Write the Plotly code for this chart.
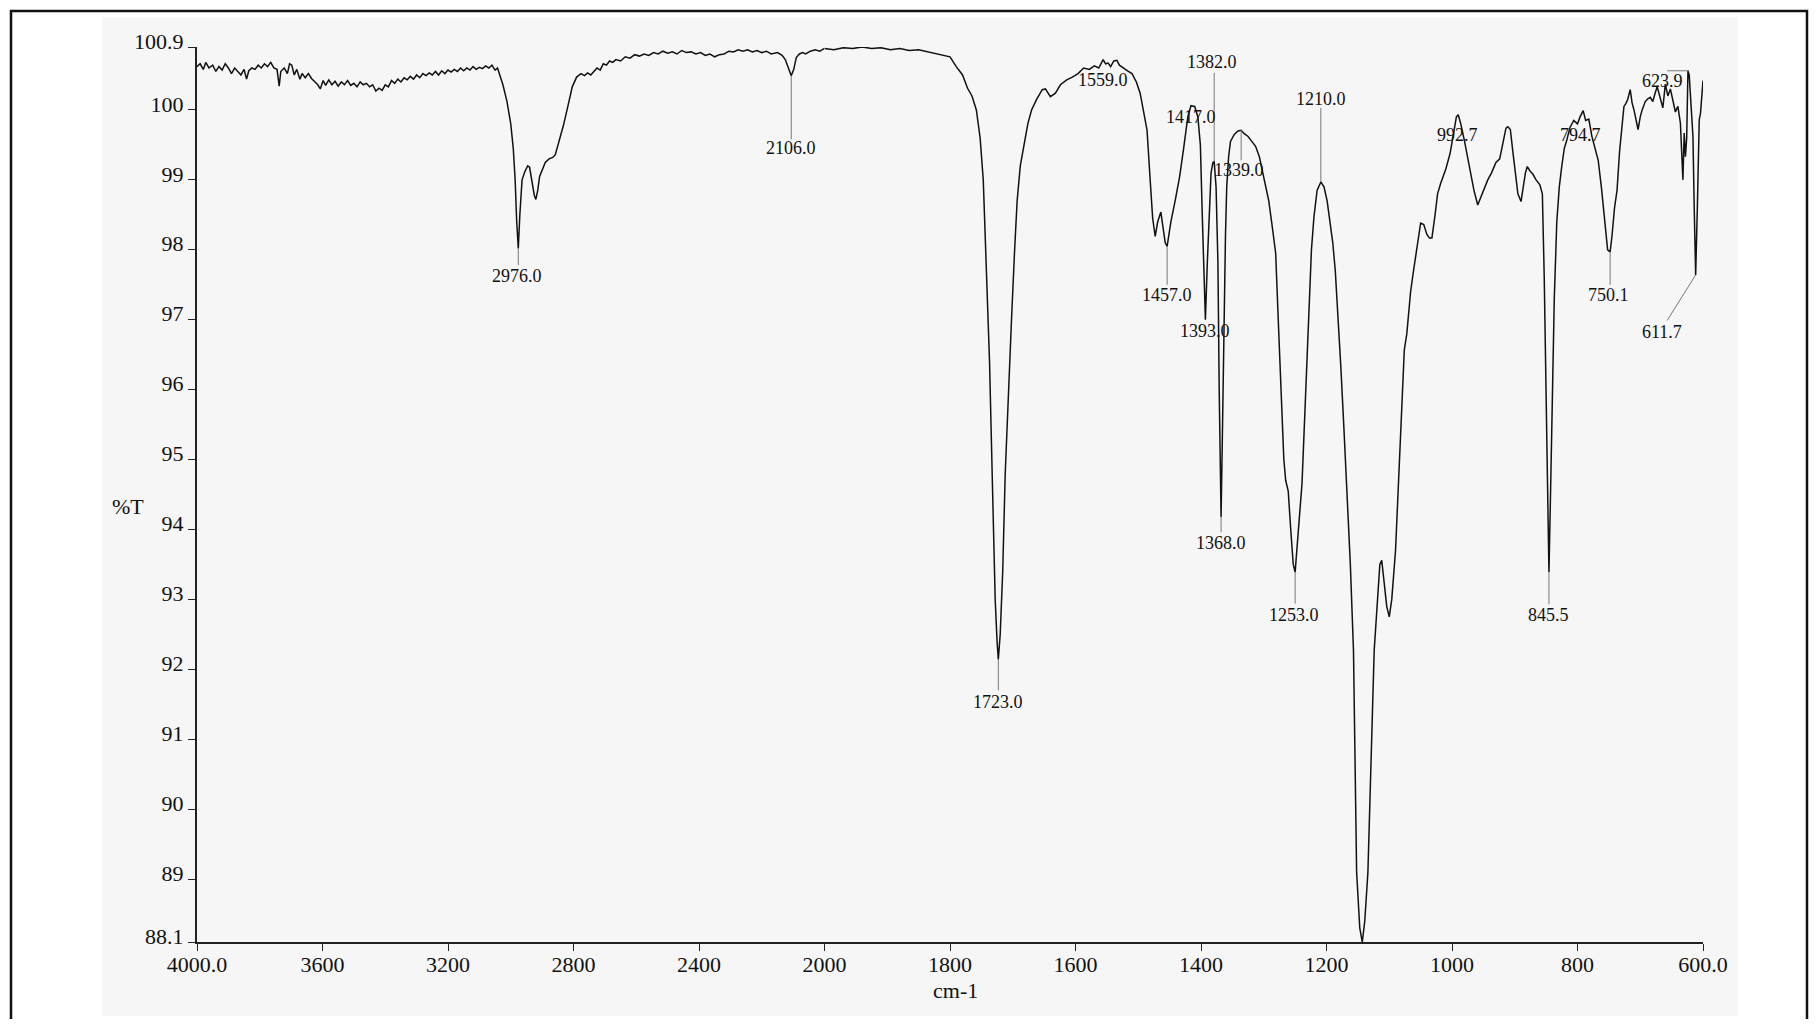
import plotly.graph_objects as go

# ---------------- data ----------------
wn_hi = [4000, 3990, 3980, 3972, 3962, 3950, 3940, 3930, 3920, 3910, 3900, 3890, 3880, 3870, 3860,
         3850, 3842, 3835, 3825, 3815, 3805, 3795, 3785, 3775, 3765, 3755, 3745, 3738, 3733, 3722,
         3712, 3705, 3698, 3690, 3682, 3672, 3665, 3655, 3645, 3635, 3625, 3615, 3607, 3598, 3590,
         3580, 3570, 3560, 3550, 3540, 3530, 3520, 3510, 3500, 3490, 3480, 3470, 3460, 3450, 3440,
         3430, 3420, 3410, 3400, 3390, 3380, 3370, 3360, 3350, 3340, 3330, 3320, 3310, 3300, 3290,
         3280, 3270, 3260, 3250, 3240, 3230, 3220, 3210, 3200, 3190, 3180, 3170, 3160, 3150, 3140,
         3130, 3120, 3110, 3100, 3090, 3080, 3070, 3060, 3050, 3042, 3035, 3025, 3012, 3000, 2992,
         2986, 2981, 2976, 2971, 2964, 2955, 2946, 2940, 2933, 2925, 2920, 2914, 2908, 2900, 2890,
         2878, 2866, 2858, 2846, 2832, 2818, 2804, 2790, 2776, 2765, 2755, 2745, 2735, 2725, 2715,
         2705, 2695, 2685, 2675, 2665, 2650, 2635, 2620, 2605, 2590, 2575, 2560, 2545, 2530, 2515,
         2500, 2485, 2470, 2455, 2440, 2425, 2410, 2395, 2380, 2365, 2350, 2335, 2320, 2305, 2290,
         2275, 2260, 2245, 2230, 2215, 2200, 2185, 2170, 2150, 2135, 2125, 2115, 2106, 2098, 2090,
         2080, 2070, 2060, 2045, 2030, 2015, 2000]
t_hi = [100.62, 100.66, 100.58, 100.68, 100.60, 100.64, 100.55, 100.62, 100.57, 100.66, 100.60, 100.52, 100.60, 100.55, 100.50,
        100.58, 100.44, 100.56, 100.60, 100.58, 100.64, 100.60, 100.66, 100.62, 100.68, 100.60, 100.58, 100.34, 100.55, 100.60,
        100.52, 100.66, 100.64, 100.50, 100.58, 100.44, 100.52, 100.46, 100.52, 100.45, 100.40, 100.36, 100.30, 100.42, 100.35,
        100.43, 100.36, 100.41, 100.34, 100.40, 100.36, 100.42, 100.35, 100.38, 100.33, 100.40, 100.36, 100.38, 100.33, 100.36,
        100.27, 100.31, 100.28, 100.36, 100.33, 100.42, 100.38, 100.44, 100.40, 100.46, 100.43, 100.48, 100.44, 100.50, 100.46,
        100.52, 100.49, 100.53, 100.50, 100.55, 100.50, 100.56, 100.52, 100.57, 100.54, 100.58, 100.55, 100.60, 100.56, 100.60,
        100.57, 100.62, 100.58, 100.61, 100.59, 100.63, 100.60, 100.64, 100.57, 100.60, 100.50, 100.36, 100.12, 99.80, 99.45,
        99.00, 98.40, 98.02, 98.50, 99.00, 99.12, 99.20, 99.18, 99.00, 98.78, 98.72, 98.85, 99.05, 99.14, 99.25,
        99.30, 99.32, 99.36, 99.55, 99.78, 100.05, 100.33, 100.47, 100.52, 100.49, 100.53, 100.50, 100.55, 100.60, 100.57,
        100.66, 100.64, 100.70, 100.68, 100.72, 100.70, 100.76, 100.74, 100.79, 100.77, 100.80, 100.78, 100.82, 100.80, 100.84,
        100.81, 100.83, 100.80, 100.85, 100.82, 100.83, 100.80, 100.82, 100.78, 100.80, 100.76, 100.79, 100.80, 100.84, 100.83,
        100.86, 100.84, 100.86, 100.83, 100.85, 100.82, 100.84, 100.80, 100.82, 100.78, 100.72, 100.60, 100.49, 100.58, 100.75,
        100.80, 100.82, 100.80, 100.84, 100.86, 100.84, 100.88]

wn_lo = [2000, 1985, 1970, 1955, 1940, 1925, 1910, 1895, 1880, 1865, 1850, 1835, 1820, 1810, 1800,
         1790, 1780, 1772, 1765, 1758, 1752, 1747, 1742, 1737, 1732, 1728, 1725, 1723, 1720, 1716,
         1712, 1707, 1702, 1697, 1693, 1688, 1682, 1676, 1670, 1662, 1653, 1648, 1640, 1632, 1624,
         1614, 1605, 1596, 1587, 1578, 1570, 1563, 1556, 1552, 1548, 1544, 1539, 1534, 1530, 1524,
         1517, 1510, 1503, 1497, 1492, 1486, 1481, 1477, 1473, 1469, 1464, 1460, 1457, 1454, 1448,
         1441, 1434, 1428, 1421, 1416, 1410, 1405, 1401, 1398, 1395, 1393, 1390, 1387, 1384, 1381,
         1379, 1376, 1373, 1371, 1368, 1366, 1364, 1361, 1359, 1356, 1353, 1347, 1341, 1336, 1331,
         1325, 1319, 1313, 1307, 1300, 1292, 1286, 1281, 1276, 1272, 1268, 1265, 1261, 1257, 1253,
         1250, 1247, 1243, 1239, 1234, 1229, 1224, 1220, 1215, 1209, 1204, 1199, 1195, 1190, 1186,
         1181, 1177, 1172, 1168, 1162, 1157, 1152, 1147, 1143, 1139, 1134, 1124, 1119, 1115, 1112,
         1108, 1104, 1100, 1096, 1090, 1085, 1080, 1076, 1072, 1066, 1061, 1055, 1050, 1045, 1040,
         1036, 1032, 1027, 1023, 1018, 1010, 1003, 997, 993, 990, 986, 980, 971, 965, 959,
         954, 948, 943, 937, 930, 924, 919, 914, 911, 907, 903, 899, 895, 890, 886,
         883, 880, 876, 871, 866, 860, 856, 853, 850, 847, 845.5, 843, 840, 837, 833,
         829, 825, 821, 817, 812, 806, 800, 796, 791, 787, 782, 777, 772, 767, 762,
         757, 752, 748, 745, 741, 737, 733, 729, 726, 723, 720, 716, 713, 710, 706,
         703.5, 700, 697, 692, 688, 684, 680, 676, 673, 669, 666, 664, 660, 656, 652,
         648, 644, 640, 636, 634, 632, 630, 628, 626, 624, 622, 618, 616, 614, 611.7,
         609, 606, 604, 602, 600]
t_lo = [100.88, 100.86, 100.89, 100.88, 100.90, 100.88, 100.89, 100.86, 100.88, 100.85, 100.86, 100.83, 100.80, 100.78, 100.76,
        100.62, 100.50, 100.31, 100.20, 100.00, 99.60, 99.00, 97.80, 96.40, 94.50, 93.00, 92.40, 92.14, 92.50, 93.40,
        94.80, 96.00, 97.00, 98.00, 98.70, 99.20, 99.53, 99.80, 100.00, 100.15, 100.29, 100.30, 100.19, 100.24, 100.36,
        100.43, 100.47, 100.52, 100.60, 100.58, 100.63, 100.60, 100.72, 100.66, 100.67, 100.62, 100.70, 100.71, 100.64, 100.60,
        100.56, 100.52, 100.40, 100.24, 100.00, 99.71, 99.00, 98.45, 98.19, 98.40, 98.54, 98.30, 98.10, 98.05, 98.40,
        98.71, 99.05, 99.43, 99.90, 100.06, 100.05, 99.90, 99.50, 98.50, 97.60, 97.00, 97.80, 98.60, 99.10, 99.25,
        99.26, 98.90, 97.80, 96.00, 94.18, 95.30, 96.80, 98.20, 98.90, 99.33, 99.55, 99.65, 99.70, 99.71, 99.66,
        99.62, 99.55, 99.48, 99.33, 99.05, 98.70, 98.30, 97.95, 96.80, 95.90, 95.00, 94.70, 94.55, 94.00, 93.50,
        93.39, 93.70, 94.20, 94.66, 95.80, 97.00, 98.00, 98.47, 98.85, 98.97, 98.90, 98.70, 98.45, 98.10, 97.70,
        97.00, 96.30, 95.40, 94.66, 93.50, 92.27, 89.10, 88.30, 88.10, 88.40, 89.10, 92.27, 93.00, 93.50, 93.56,
        93.20, 92.90, 92.75, 93.00, 93.70, 94.80, 95.80, 96.57, 96.80, 97.40, 97.72, 98.10, 98.38, 98.36, 98.22,
        98.17, 98.17, 98.50, 98.80, 98.95, 99.15, 99.38, 99.70, 99.90, 99.93, 99.80, 99.55, 99.10, 98.85, 98.64,
        98.75, 98.90, 99.00, 99.10, 99.25, 99.30, 99.50, 99.74, 99.76, 99.72, 99.40, 99.05, 98.80, 98.69, 98.95,
        99.10, 99.19, 99.13, 99.08, 99.00, 98.93, 98.80, 97.60, 96.00, 94.40, 93.39, 94.50, 96.00, 97.30, 98.40,
        98.90, 99.20, 99.45, 99.57, 99.75, 99.85, 99.80, 99.90, 99.99, 99.85, 99.87, 99.62, 99.45, 99.28, 98.90,
        98.40, 98.00, 97.97, 98.20, 98.60, 98.85, 99.40, 99.80, 100.05, 100.09, 100.15, 100.29, 100.10, 100.00, 99.85,
        99.72, 99.90, 100.00, 100.12, 100.16, 100.18, 100.12, 100.25, 100.33, 100.20, 100.10, 100.03, 100.37, 100.20, 100.30,
        100.15, 99.97, 100.05, 99.81, 99.40, 99.00, 99.67, 99.33, 99.60, 100.56, 100.50, 99.80, 99.62, 98.60, 97.64,
        98.60, 99.86, 99.95, 100.20, 100.42]

# peak labels: text, wavenumber of label centre, %T of label centre
peak_text = ["2976.0", "2106.0", "1723.0", "1559.0", "1457.0", "1417.0", "1382.0", "1393.0", "1339.0",
             "1368.0", "1210.0", "1253.0", "992.7", "794.7", "845.5", "750.1", "623.9", "611.7"]
peak_x = [2979, 2106, 1723, 1556, 1454, 1416, 1382, 1393, 1339,
          1368, 1209, 1252, 992, 796, 846, 750, 665, 665]
peak_y = [97.62, 99.45, 91.53, 100.43, 97.36, 99.90, 100.68, 96.84, 99.14,
          93.80, 100.15, 92.77, 99.64, 99.64, 92.77, 97.35, 100.42, 96.83]

# leader lines: (x0, y0, x1, y1) in wavenumber / %T
leaders = [(2976, 98.02, 2976, 97.78), (2106, 100.49, 2106, 99.58), (1723, 92.14, 1723, 91.70),
           (1454, 98.05, 1454, 97.50), (1379, 100.53, 1379, 99.26), (1336, 99.71, 1336, 99.28),
           (1368, 94.18, 1368, 93.96), (1209, 100.03, 1209, 98.97), (1250, 93.39, 1250, 92.94),
           (845.5, 93.39, 845.5, 92.93), (748, 97.97, 748, 97.50),
           (657, 100.56, 622, 100.56), (657, 96.99, 611.7, 97.64)]

y_ticks = [100.9, 100, 99, 98, 97, 96, 95, 94, 93, 92, 91, 90, 89, 88.1]
y_tick_text = ["100.9", "100", "99", "98", "97", "96", "95", "94", "93", "92", "91", "90", "89", "88.1"]
x_hi_ticks = [4000, 3600, 3200, 2800, 2400, 2000]
x_hi_text = ["4000.0", "3600", "3200", "2800", "2400", "2000"]
x_lo_ticks = [1800, 1600, 1400, 1200, 1000, 800, 600]
x_lo_text = ["1800", "1600", "1400", "1200", "1000", "800", "600.0"]

# ---------------- figure ----------------
# the page body has an 8px margin, so the figure is 16px smaller than the window
OFF = 8
W, H = 1820 - 2 * OFF, 1027 - 2 * OFF
ML, MT = 197 - OFF, 47 - OFF
MR = W - (1703 - OFF)
MB = H - (942 - OFF)
PW, PH = W - ML - MR, H - MT - MB
FONT = "Liberation Serif, Times New Roman, serif"
SPLIT = 1000 / 2400  # 4000-2000 is drawn at half the scale of 2000-600


def px_to_paper_x(px):  # px = page pixel
    return (px - OFF - ML) / PW


def px_to_paper_y(py):
    return (H - MB - (py - OFF)) / PH


fig = go.Figure()
line = dict(color="#111111", width=1.5)
fig.add_trace(go.Scatter(x=wn_hi, y=t_hi, mode="lines", line=line, xaxis="x", yaxis="y",
                         showlegend=False, hoverinfo="x+y"))
fig.add_trace(go.Scatter(x=wn_lo, y=t_lo, mode="lines", line=line, xaxis="x2", yaxis="y",
                         showlegend=False, hoverinfo="x+y"))

axis_common = dict(showgrid=False, zeroline=False, showline=True, linecolor="#222222", linewidth=2,
                   ticks="outside", ticklen=7, tickwidth=1.3, tickcolor="#222222",
                   tickfont=dict(family=FONT, size=22, color="#111111"))

fig.update_layout(
    width=W, height=H,
    margin=dict(l=ML, r=MR, t=MT, b=MB),
    paper_bgcolor="white", plot_bgcolor="rgba(0,0,0,0)",
    xaxis=dict(domain=[0, SPLIT], range=[4000, 2000], tickvals=x_hi_ticks, ticktext=x_hi_text,
               anchor="y", ticklabelstandoff=-5, **axis_common),
    xaxis2=dict(domain=[SPLIT, 1], range=[2000, 600], tickvals=x_lo_ticks, ticktext=x_lo_text,
                anchor="y", ticklabelstandoff=-5, **axis_common),
    yaxis=dict(range=[88.1, 100.9], tickvals=y_ticks, ticktext=y_tick_text, ticklabelshift=-6,
               **axis_common),
)

# scanned page tint and outer frame
fig.add_shape(type="rect", xref="paper", yref="paper", layer="below",
              x0=px_to_paper_x(102), x1=px_to_paper_x(1738), y0=px_to_paper_y(1016), y1=px_to_paper_y(17),
              fillcolor="#f6f6f6", line=dict(width=0))
fig.add_shape(type="rect", xref="paper", yref="paper",
              x0=px_to_paper_x(11), x1=px_to_paper_x(1807), y0=px_to_paper_y(1040), y1=px_to_paper_y(11),
              line=dict(color="#111111", width=2.5))

# leader lines
for x0, y0, x1, y1 in leaders:
    xr = "x" if min(x0, x1) >= 2000 else "x2"
    fig.add_shape(type="line", xref=xr, yref="y", x0=x0, y0=y0, x1=x1, y1=y1,
                  line=dict(color="#777777", width=1))

# peak labels
for txt, px_, py_ in zip(peak_text, peak_x, peak_y):
    xr = "x" if px_ >= 2000 else "x2"
    fig.add_annotation(x=px_, y=py_, xref=xr, yref="y", text=txt, showarrow=False,
                       xanchor="center", yanchor="middle",
                       font=dict(family=FONT, size=18, color="#111111"))

# axis titles
fig.add_annotation(x=px_to_paper_x(128), y=px_to_paper_y(506), xref="paper", yref="paper",
                   text="%T", showarrow=False, xanchor="center", yanchor="middle",
                   font=dict(family=FONT, size=22, color="#111111"))
fig.add_annotation(x=px_to_paper_x(955), y=px_to_paper_y(990), xref="paper", yref="paper",
                   text="cm-1", showarrow=False, xanchor="center", yanchor="middle",
                   font=dict(family=FONT, size=22, color="#111111"))

fig.write_html("out.html")
